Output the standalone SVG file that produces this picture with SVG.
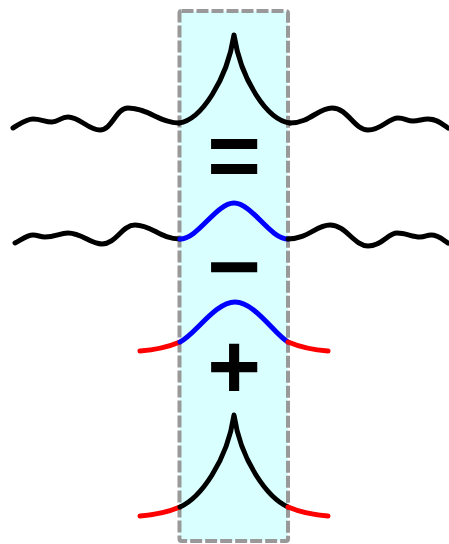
<svg xmlns="http://www.w3.org/2000/svg" width="449" height="544" viewBox="0 0 449 544">
<style>
.c{fill:none;stroke-width:5;stroke-linecap:round;stroke-linejoin:round}
.k{stroke:#000}
.b{stroke:#0000ff}
.r{stroke:#ff0000}
.sym{font-family:"Liberation Sans",Arial,sans-serif;font-weight:bold;font-size:92px;text-anchor:middle;fill:#000}
</style>
<rect width="449" height="544" fill="#fff"/>
<g id="box">
<rect x="179.5" y="11" width="108.5" height="530" rx="2" fill="#d9ffff" stroke="#999" stroke-width="4" stroke-dasharray="12 3"/>
</g>
<g id="row1">
<path class="c k" d="M13,128 C20,124 26,119 33,119 C41,119 45,122 52,122 C58,122 61,117 68,117 C80,117 88,130 100,130 C112,130 116,108 128,108 C148,108 160,123 179,123"/>
<path class="c k" d="M179,123 C201,120 227,80 234,35 C241,80 267,120 290,123"/>
<path class="c k" d="M290,123 C310,123 318,108 332,108 C348,108 354,130 368,130 C382,130 388,118 398,118 C405,118 407,121 413,121 C419,121 422,119 428,119 C437,119 442,124 448,128"/>
</g>
<g id="row2">
<path class="c k" d="M15,243 C21,240 27,235 33,235 C38,235 40,237 45,237 C55,237 60,233 68,233 C82,233 90,244 102,244 C116,244 122,225 135,225 C152,225 160,239 180,239"/>
<path class="c b" d="M180,239 C198,239 216,203 234,203 C252,203 270,239 288,239"/>
<path class="c k" d="M288,239 C308,239 316,225 330,225 C346,225 354,246 368,246 C382,246 388,233 397,233 C406,233 412,237 420,237 C425,237 427,235 431,235 C439,235 443,240 448,243"/>
</g>
<g id="row3">
<path class="c r" d="M140,351 C155,350 168,347 180,342"/>
<path class="c b" d="M180,342 C195,335 215,302 235,302 C255,302 275,335 288,342"/>
<path class="c r" d="M288,342 C300,347 313,350 328,351"/>
</g>
<g id="row4">
<path class="c r" d="M140,516 C155,515 168,512 180,507"/>
<path class="c k" d="M180,507 C200,498 227,462 234,415 C241,462 268,498 288,507"/>
<path class="c r" d="M288,507 C300,512 313,515 328,516"/>
</g>
<g id="symbols">
<text class="sym" x="234" y="186.5">=</text>
<text class="sym" x="234" y="298">−</text>
<text class="sym" x="234" y="398">+</text>
</g>
</svg>
